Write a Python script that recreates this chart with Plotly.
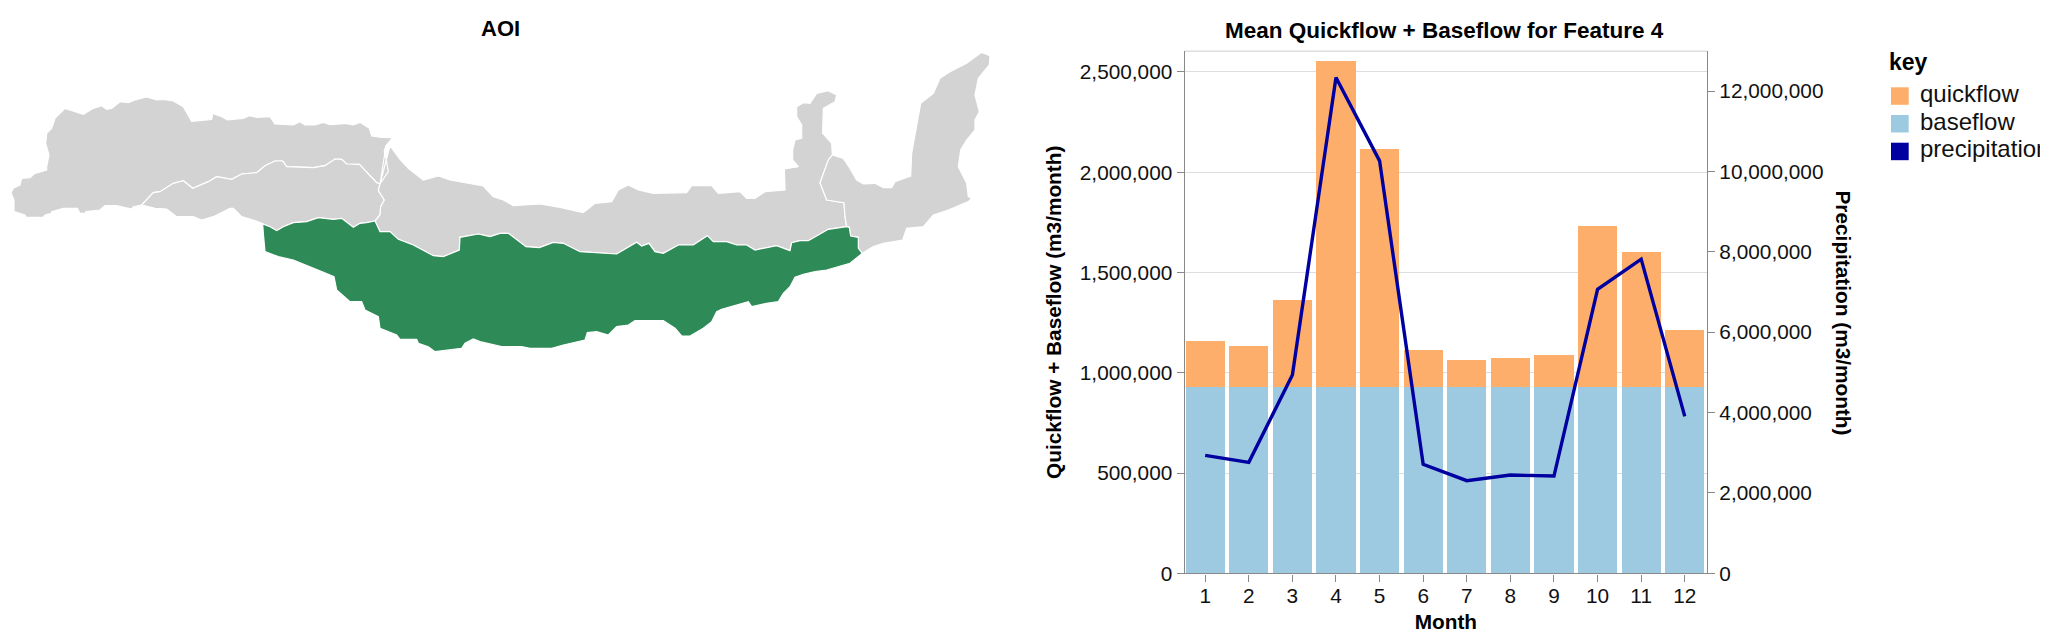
#!/usr/bin/env python3
import plotly.graph_objects as go

months = list(range(1, 13))
baseflow = [930000] * 12
totalflow = [1158000, 1135000, 1361000, 2555000, 2115000, 1112000,
             1065000, 1074000, 1090000, 1730000, 1604000, 1215000]
quickflow = [t - b for t, b in zip(totalflow, baseflow)]
precipitation = [2935000, 2761000, 4933000, 12338000, 10264000, 2711000,
                 2304000, 2445000, 2420000, 7065000, 7818000, 3905000]

left_ticks = [0, 500000, 1000000, 1500000, 2000000, 2500000]
right_ticks = [0, 2000000, 4000000, 6000000, 8000000, 10000000, 12000000]

# watershed outlines, map units are 1/3 of a screen pixel
shared_nw_mid = [(425, 615), (460, 578), (480, 575), (520, 550), (550, 542), (578, 565), (625, 545), (650, 530),
                 (695, 538), (725, 522), (770, 518), (795, 497), (825, 483), (848, 483), (860, 500), (940, 503),
                 (975, 497), (1005, 477), (1025, 478), (1040, 492), (1078, 493), (1130, 548), (1140, 552)]
shared_center_west = [(1140, 552), (1165, 515), (1158, 475), (1153, 455), (1158, 437)]
shared_mid_center = [(1125, 663), (1140, 645), (1142, 620), (1153, 600), (1135, 572), (1140, 552)]
shared_mid_green = [(788, 672), (810, 680), (830, 692), (850, 680), (880, 668), (920, 665), (955, 653), (1000, 658),
                    (1025, 655), (1060, 682), (1080, 670), (1100, 668), (1125, 663)]
shared_center_green = [(1125, 663), (1140, 695), (1170, 695), (1195, 718), (1240, 735), (1300, 767), (1330, 770),
                       (1378, 750), (1380, 712), (1435, 702), (1470, 710), (1500, 700), (1525, 700), (1578, 740),
                       (1618, 743), (1660, 727), (1690, 730), (1740, 755), (1850, 762), (1910, 727), (1925, 738),
                       (1947, 730), (1965, 755), (1990, 760), (2035, 735), (2080, 735), (2122, 707), (2140, 725),
                       (2180, 725), (2210, 735), (2240, 735), (2265, 750), (2330, 737), (2370, 752), (2375, 728),
                       (2400, 722), (2425, 722), (2485, 688), (2540, 680)]
shared_center_east = [(2497, 465), (2485, 480), (2460, 548), (2480, 600), (2532, 608), (2535, 650), (2540, 680)]
shared_east_green = [(2540, 680), (2548, 682), (2552, 708), (2575, 712), (2575, 745), (2587, 760)]

nw_rest = [(1178, 413), (1145, 412), (1115, 408), (1108, 385), (1080, 367), (1060, 375), (1035, 370), (1020, 372),
           (990, 374), (970, 367), (945, 375), (915, 375), (900, 365), (880, 375), (848, 373), (825, 372), (810, 350),
           (770, 352), (748, 347), (730, 355), (682, 360), (665, 350), (638, 340), (635, 358), (575, 364), (550, 320),
           (520, 303), (490, 298), (470, 300), (440, 291), (405, 300), (385, 308), (360, 305), (335, 325), (320, 328),
           (305, 317), (280, 325), (250, 343), (195, 325), (165, 355), (155, 385), (140, 400), (137, 430), (147, 465),
           (140, 500), (140, 510), (105, 520), (90, 533), (65, 535), (60, 555), (40, 565), (33, 578), (42, 600),
           (42, 635), (75, 645), (78, 652), (130, 652), (135, 645), (155, 640), (155, 635), (190, 625), (232, 625),
           (240, 640), (255, 640), (258, 635), (300, 630), (315, 617), (350, 617), (395, 627), (400, 620)]
mid_rest = [(760, 660), (725, 650), (700, 625), (690, 625), (670, 635), (640, 650), (605, 660), (580, 650), (530, 650),
            (500, 627), (465, 625), (440, 620)]
center_rest = [(1170, 437), (1200, 478), (1225, 505), (1270, 540), (1315, 528), (1350, 540), (1400, 548), (1450, 558),
               (1480, 590), (1510, 600), (1540, 617), (1620, 612), (1680, 622), (1750, 638), (1785, 610), (1835, 605),
               (1855, 570), (1885, 555), (1915, 570), (1960, 580), (2060, 578), (2075, 557), (2135, 557), (2155, 580),
               (2220, 575), (2240, 595), (2265, 595), (2295, 575), (2355, 570), (2353, 507), (2395, 500), (2378, 480),
               (2378, 450), (2385, 420), (2405, 415), (2405, 375), (2390, 350), (2390, 320), (2410, 308), (2430, 310),
               (2450, 280), (2485, 272), (2510, 285), (2505, 305), (2470, 325), (2468, 400), (2495, 430)]
east_rest = [(2530, 475), (2550, 505), (2570, 540), (2590, 552), (2625, 550), (2650, 563), (2675, 563), (2685, 545),
             (2732, 528), (2735, 460), (2750, 380), (2762, 310), (2800, 280), (2820, 235), (2850, 215), (2900, 190),
             (2945, 157), (2970, 167), (2968, 195), (2935, 235), (2925, 285), (2938, 335), (2925, 360), (2925, 390),
             (2900, 420), (2882, 450), (2875, 500), (2900, 550), (2905, 590), (2915, 595), (2905, 605), (2845, 630),
             (2800, 645), (2770, 680), (2720, 685), (2708, 720), (2650, 730), (2620, 740), (2587, 760)]
green_rest = [(2550, 790), (2515, 800), (2480, 810), (2445, 815), (2410, 823), (2385, 832), (2370, 860), (2350, 880),
              (2335, 905), (2300, 910), (2255, 920), (2245, 905), (2210, 915), (2165, 928), (2150, 935), (2135, 965),
              (2110, 985), (2070, 1008), (2045, 1008), (2025, 985), (1990, 962), (1905, 962), (1885, 975), (1850, 980),
              (1825, 1005), (1790, 995), (1762, 998), (1755, 1020), (1690, 1035), (1655, 1045), (1590, 1045),
              (1565, 1040), (1505, 1040), (1440, 1025), (1420, 1017), (1395, 1030), (1385, 1045), (1345, 1050),
              (1305, 1055), (1285, 1040), (1255, 1030), (1250, 1018), (1200, 1018), (1190, 1005), (1140, 985),
              (1135, 950), (1095, 930), (1085, 905), (1050, 905), (1010, 870), (1002, 830), (965, 815), (930, 800),
              (880, 780), (835, 770), (795, 755), (790, 700)]

feature_outlines = {
    'Feature 1': shared_nw_mid + shared_center_west[1:] + nw_rest,
    'Feature 2': shared_nw_mid + shared_mid_center[::-1][1:] + shared_mid_green[::-1][1:] + mid_rest,
    'Feature 3': shared_center_west[::-1] + center_rest + shared_center_east + shared_center_green[::-1][1:]
    + shared_mid_center[1:],
    'Feature 5': shared_center_east[::-1] + east_rest + shared_east_green[::-1][1:],
    'Feature 4': shared_mid_green + shared_center_green[1:] + shared_east_green[1:] + green_rest,
}

ORANGE = '#fdae6b'
BLUE = '#9ecae1'
NAVY = '#0000a0'
GREEN = '#2e8b57'
GREY = '#d3d3d3'
AXIS = '#888888'
FONT = 'Liberation Sans, Arial, sans-serif'

# the page body has an 8px margin, keep the figure small enough that the page does not scroll
WIDTH = 2040
HEIGHT = 625
MAP_WIDTH = 1020

legend_names = ['quickflow', 'baseflow', 'precipitation']
legend_colors = [ORANGE, BLUE, NAVY]
legend_tops = [87.3, 115.0, 142.7]


def fx(px):
    return (px - 8) / WIDTH


def fy(py):
    return 1 - (py - 8) / HEIGHT


fig = go.Figure()

for name, outline in feature_outlines.items():
    fig.add_trace(go.Scatter(
        x=[p[0] for p in outline] + [outline[0][0]],
        y=[p[1] for p in outline] + [outline[0][1]],
        name=name,
        mode='lines',
        fill='toself',
        fillcolor=GREEN if name == 'Feature 4' else GREY,
        line=dict(color='white', width=1.2),
        xaxis='x3',
        yaxis='y3',
    ))

fig.add_trace(go.Bar(x=months, y=baseflow, name='baseflow', marker=dict(color=BLUE, line_width=0)))
fig.add_trace(go.Bar(x=months, y=quickflow, name='quickflow', marker=dict(color=ORANGE, line_width=0)))
fig.add_trace(go.Scatter(x=months, y=precipitation, name='precipitation', mode='lines',
                         line=dict(color=NAVY, width=3.4), yaxis='y2'))

# legend labels as a text trace on their own hidden axes
fig.add_trace(go.Scatter(
    x=[1920] * len(legend_names),
    y=[t + 8.7 for t in legend_tops],
    text=legend_names,
    mode='text',
    textposition='middle right',
    textfont=dict(size=24, color='#111111'),
    cliponaxis=False,
    xaxis='x4',
    yaxis='y4',
))

axis_style = dict(
    automargin=False,
    showline=True,
    linecolor=AXIS,
    linewidth=1.4,
    ticks='outside',
    ticklen=7,
    tickwidth=1.4,
    tickcolor=AXIS,
    tickfont=dict(size=20.8, color='#111111'),
    zeroline=False,
)

fig.update_layout(
    width=WIDTH,
    height=HEIGHT,
    margin=dict(l=0, r=0, t=0, b=0),
    paper_bgcolor='white',
    plot_bgcolor='white',
    font=dict(family=FONT, color='black'),
    barmode='stack',
    bargap=0.1,
    showlegend=False,
    xaxis=dict(
        domain=[fx(1184.7), fx(1707)],
        range=[0.53, 12.51],
        tickvals=months,
        showgrid=False,
        ticklabelstandoff=-3,
        title=dict(text='<b>Month</b>', font=dict(size=20.8), standoff=10),
        anchor='y',
        **axis_style,
    ),
    yaxis=dict(
        domain=[fy(573.3), fy(51.3)],
        range=[0, 2603000],
        tickvals=left_ticks,
        tickformat=',',
        showgrid=True,
        gridcolor='#dddddd',
        gridwidth=1.4,
        title=dict(text='<b>Quickflow + Baseflow (m3/month)</b>', font=dict(size=20.8), standoff=12),
        anchor='x',
        **axis_style,
    ),
    yaxis2=dict(
        domain=[fy(573.3), fy(51.3)],
        range=[0, 12990000],
        tickvals=right_ticks,
        tickformat=',',
        showgrid=False,
        overlaying='y',
        side='right',
        anchor='x',
        **axis_style,
    ),
    xaxis3=dict(domain=[0, MAP_WIDTH / WIDTH], range=[24, 24 + 3 * MAP_WIDTH], visible=False, anchor='y3',
                automargin=False),
    yaxis3=dict(domain=[0, 1], range=[24 + 3 * HEIGHT, 24], visible=False, anchor='x3', automargin=False),
    xaxis4=dict(domain=[fx(1900), 1], range=[1900, 8 + WIDTH], visible=False, anchor='y4', automargin=False),
    yaxis4=dict(domain=[0, 1], range=[8 + HEIGHT, 8], visible=False, anchor='x4', automargin=False),
)

# view border on top of the chart
fig.add_shape(type='line', xref='x domain', yref='paper', x0=0, x1=1, y0=fy(51.3), y1=fy(51.3),
              line=dict(color='#dddddd', width=1.4), layer='below')

annotations = [
    dict(text='<b>AOI</b>', x=fx(500), y=fy(29), size=22, angle=0),
    dict(text='<b>Mean Quickflow + Baseflow for Feature 4</b>', x=fx(1444.5), y=fy(30), size=22.5, angle=0),
    # plotly turns a right hand axis title the other way round, so it goes here
    dict(text='<b>Precipitation (m3/month)</b>', x=fx(1843), y=fy(312.5), size=20.8, angle=90),
]
for a in annotations:
    fig.add_annotation(text=a['text'], x=a['x'], y=a['y'], xref='paper', yref='paper', xanchor='center',
                       yanchor='middle', showarrow=False, textangle=a['angle'], font=dict(size=a['size']))

# legend block, the swatches in the picture are squares for the line too
fig.add_annotation(text='<b>key</b>', x=fx(1887), y=fy(62), xref='paper', yref='paper', xanchor='left',
                   yanchor='middle', showarrow=False, font=dict(size=23))
for top, color in zip(legend_tops, legend_colors):
    fig.add_shape(type='rect', xref='paper', yref='paper', x0=fx(1891), x1=fx(1908.7), y0=fy(top), y1=fy(top + 17.5),
                  fillcolor=color, line_width=0)

fig.write_html("out.html")
